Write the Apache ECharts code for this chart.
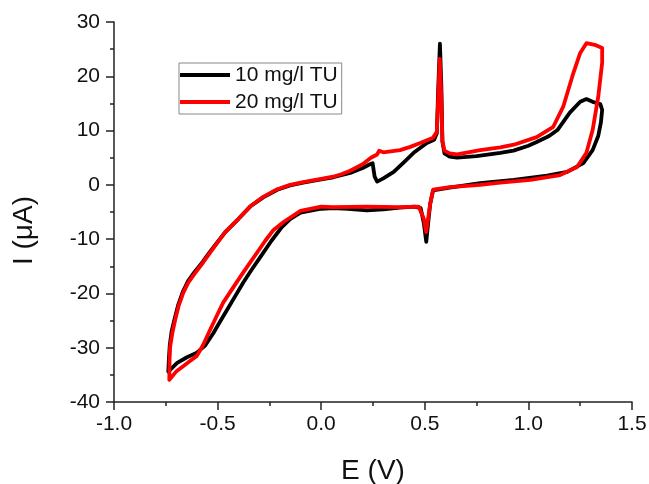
<!DOCTYPE html>
<html>
<head>
<meta charset="utf-8">
<title>Cyclic voltammograms</title>
<script src="https://cdn.jsdelivr.net/npm/echarts@6/dist/echarts.min.js"></script>
<style>
  html, body { margin: 0; padding: 0; background: #fff; }
  #chart { width: 649px; height: 484px; }
</style>
</head>
<body>
<div id="chart"></div>
<script>
// Potential (V) and current (µA) for each scan, anodic sweep then cathodic sweep
const seriesNames = ['10 mg/l TU', '20 mg/l TU'];

const potential10 = [
  -0.738, -0.735, -0.731, -0.722, -0.707, -0.690, -0.668, -0.642, -0.610, -0.572,
  -0.538, -0.500, -0.463, -0.400, -0.343, -0.280, -0.212, -0.150, -0.087, 0.000,
  0.058, 0.140, 0.200, 0.235, 0.248, 0.258, 0.270, 0.300, 0.350, 0.400,
  0.446, 0.510, 0.545, 0.558, 0.565, 0.573, 0.580, 0.585, 0.595, 0.620,
  0.656, 0.750, 0.864, 0.928, 1.000, 1.040, 1.100, 1.140, 1.200, 1.250,
  1.280, 1.310, 1.347, 1.356,
  1.350, 1.337, 1.310, 1.265, 1.187, 1.090, 0.930, 0.767, 0.620, 0.540,
  0.526, 0.515, 0.507, 0.495, 0.480, 0.450, 0.380, 0.300, 0.220, 0.130,
  0.058, 0.000, -0.100, -0.150, -0.190, -0.240, -0.294, -0.335, -0.376, -0.415,
  -0.454, -0.490, -0.520, -0.560, -0.600, -0.650, -0.695, -0.738
];
const current10 = [
  -34.4, -32.0, -29.6, -27.0, -24.6, -22.1, -19.7, -17.7, -16.0, -14.2,
  -12.4, -10.5, -8.7, -6.3, -4.0, -2.3, -0.9, -0.1, 0.4, 1.0,
  1.4, 2.2, 3.1, 3.8, 4.0, 1.5, 0.6, 1.2, 2.4, 4.2,
  5.9, 7.7, 8.3, 9.5, 18.0, 26.0, 18.0, 8.0, 5.8, 5.2,
  5.0, 5.3, 5.9, 6.3, 7.2, 7.9, 9.0, 10.1, 13.3, 15.3,
  15.8, 15.3, 14.9, 13.8,
  11.5, 9.0, 6.4, 4.0, 2.4, 1.7, 0.9, 0.3, -0.5, -1.0,
  -3.5, -7.5, -10.5, -7.0, -4.3, -4.0, -4.2, -4.5, -4.7, -4.4,
  -4.3, -4.4, -5.1, -6.3, -7.8, -10.3, -13.3, -15.6, -18.0, -20.5,
  -23.0, -25.3, -27.3, -29.6, -30.9, -31.8, -32.8, -34.4
];

const potential20 = [
  -0.733, -0.732, -0.729, -0.718, -0.705, -0.688, -0.666, -0.640, -0.608, -0.570,
  -0.536, -0.500, -0.463, -0.400, -0.343, -0.280, -0.212, -0.150, -0.087, 0.000,
  0.058, 0.100, 0.140, 0.200, 0.240, 0.270, 0.280, 0.300, 0.380, 0.430,
  0.478, 0.540, 0.558, 0.565, 0.572, 0.580, 0.585, 0.595, 0.620, 0.656,
  0.767, 0.864, 0.930, 1.040, 1.120, 1.168, 1.217, 1.250, 1.280, 1.320,
  1.356,
  1.356, 1.337, 1.310, 1.280, 1.235, 1.153, 1.010, 0.864, 0.767, 0.620,
  0.540, 0.526, 0.515, 0.507, 0.495, 0.470, 0.380, 0.220, 0.058, 0.000,
  -0.100, -0.180, -0.230, -0.270, -0.310, -0.350, -0.390, -0.430, -0.473, -0.505,
  -0.536, -0.570, -0.600, -0.635, -0.666, -0.700, -0.733
];
const current20 = [
  -35.9, -32.2, -29.8, -27.2, -24.9, -22.3, -19.9, -17.9, -16.2, -14.3,
  -12.5, -10.6, -8.7, -6.3, -4.0, -2.2, -0.8, 0.0, 0.5, 1.1,
  1.5, 2.0, 2.6, 3.8, 5.0, 5.6, 6.3, 6.0, 6.4, 7.0,
  7.7, 8.7, 9.8, 16.0, 23.2, 16.0, 8.0, 6.3, 5.8, 5.6,
  6.4, 6.9, 7.4, 8.8, 10.7, 14.4, 20.6, 24.3, 26.1, 25.8,
  25.2,
  22.5, 16.2, 10.1, 5.9, 3.3, 1.8, 0.9, 0.4, 0.0, -0.4,
  -0.9, -3.5, -6.5, -8.7, -6.2, -4.0, -4.1, -4.0, -4.1, -4.0,
  -4.8, -6.8, -8.3, -10.3, -12.5, -14.7, -16.9, -19.2, -21.7, -24.2,
  -26.7, -29.5, -31.5, -32.5, -33.4, -34.4, -35.9
];

const xTicks = [-1.0, -0.5, 0.0, 0.5, 1.0, 1.5];
const yTicks = [-40, -30, -20, -10, 0, 10, 20, 30];

const pairs = (xs, ys) => xs.map((x, i) => [x, ys[i]]);

const FONT = '"Liberation Sans", Arial, sans-serif';
const axisColor = '#222';

const chart = echarts.init(document.getElementById('chart'), null, { renderer: 'canvas' });

chart.setOption({
  animation: false,
  backgroundColor: '#fff',
  grid: {
    left: 114, right: 17, top: 22, bottom: 82,
    containLabel: false,
    outerBoundsMode: 'none'
  },
  legend: {
    orient: 'vertical',
    left: 179,
    top: 63,
    icon: 'rect',
    itemWidth: 50,
    itemHeight: 4,
    itemGap: 5,
    padding: [1, 4, 1, 1],
    borderColor: '#888',
    borderWidth: 1,
    textStyle: { fontFamily: FONT, fontSize: 21, lineHeight: 22, color: '#111' },
    data: seriesNames
  },
  xAxis: {
    type: 'value',
    min: xTicks[0],
    max: xTicks[xTicks.length - 1],
    interval: 0.5,
    name: 'E (V)',
    nameLocation: 'middle',
    nameGap: 55,
    nameTextStyle: { fontFamily: FONT, fontSize: 28, color: '#111' },
    axisLine: { show: true, onZero: false, lineStyle: { color: axisColor, width: 1.5 } },
    axisTick: { show: true, length: 8, lineStyle: { color: axisColor, width: 1.5 } },
    minorTick: { show: true, splitNumber: 2, length: 4, lineStyle: { color: axisColor, width: 1.5 } },
    splitLine: { show: false },
    axisLabel: {
      margin: 12,
      fontFamily: FONT, fontSize: 21, color: '#111',
      formatter: v => v.toFixed(1)
    }
  },
  yAxis: {
    type: 'value',
    min: yTicks[0],
    max: yTicks[yTicks.length - 1],
    interval: 10,
    name: 'I (\u03bcA)',
    nameLocation: 'middle',
    nameRotate: 90,
    nameGap: 76,
    nameTextStyle: { fontFamily: FONT, fontSize: 28, color: '#111', padding: [0, 37, 0, 0] },
    axisLine: { show: true, onZero: false, lineStyle: { color: axisColor, width: 1.5 } },
    axisTick: { show: true, length: 8, lineStyle: { color: axisColor, width: 1.5 } },
    minorTick: { show: true, splitNumber: 2, length: 4, lineStyle: { color: axisColor, width: 1.5 } },
    splitLine: { show: false },
    axisLabel: { margin: 14, fontFamily: FONT, fontSize: 21, color: '#111' }
  },
  series: [
    {
      name: seriesNames[0],
      type: 'line',
      data: pairs(potential10, current10),
      showSymbol: false,
      smooth: false,
      color: '#000',
      lineStyle: { color: '#000', width: 3.8, join: 'round', cap: 'round' },
      z: 2
    },
    {
      name: seriesNames[1],
      type: 'line',
      data: pairs(potential20, current20),
      showSymbol: false,
      smooth: false,
      color: '#ff0000',
      lineStyle: { color: '#ff0000', width: 3.8, join: 'round', cap: 'round' },
      z: 3
    }
  ]
});
</script>
</body>
</html>
